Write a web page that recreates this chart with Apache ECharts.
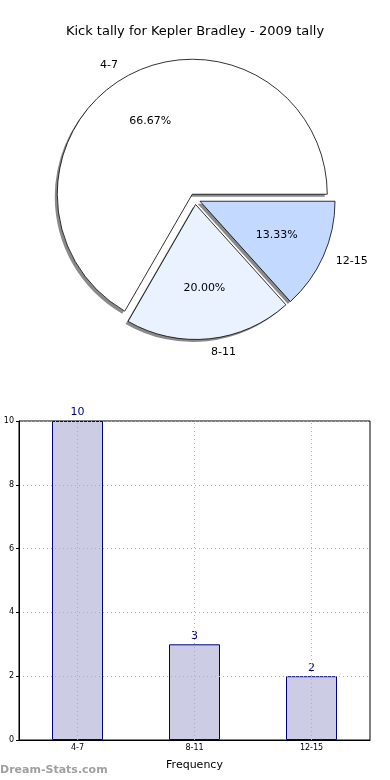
<!DOCTYPE html>
<html>
<head>
<meta charset="utf-8">
<script src="https://cdn.jsdelivr.net/npm/echarts@6/dist/echarts.min.js"></script>
<style>
html,body{margin:0;padding:0;background:#fff;}
#c{width:390px;height:780px;}
</style>
</head>
<body>
<div id="c"></div>
<script>
var categories = ['4-7', '8-11', '12-15'];
var values = [10, 3, 2];
var yTicks = [0, 2, 4, 6, 8, 10];
var titleText = 'Kick tally for Kepler Bradley - 2009 tally';
var xAxisTitle = 'Frequency';
var yAxisTitle = 'Distribution';
var watermark = 'Dream-Stats.com';

var pieColors = ['#ffffff', '#ebf2ff', '#c4d9ff'];
var FONT = 'DejaVu Sans';
var total = values.reduce(function (a, b) { return a + b; }, 0);

function pieItems(withColor) {
  return categories.map(function (c, i) {
    var d = { name: c, value: values[i], selected: true };
    if (withColor) d.itemStyle = { color: pieColors[i] };
    return d;
  });
}

var CX = 195, CY = 199, R = 135, OFF = 5.5;

var pieCommon = {
  type: 'pie',
  startAngle: 0,
  clockwise: false,
  selectedMode: 'multiple',
  selectedOffset: OFF,
  avoidLabelOverlap: false,
  silent: true,
  emphasis: { disabled: true }
};

var chart = echarts.init(document.getElementById('c'), null, { renderer: 'canvas' });
chart.setOption({
  animation: false,
  backgroundColor: '#ffffff',
  title: {
    text: titleText,
    left: 'center',
    top: 20,
    textStyle: { fontFamily: FONT, fontSize: 13, fontWeight: 'normal', color: '#000' }
  },
  graphic: [{
    type: 'text',
    left: 0,
    top: 765,
    style: { text: watermark, fontFamily: FONT, fontSize: 11, fontWeight: 'bold', fill: '#a0a0a0' }
  }],
  grid: {
    left: 19, right: 20, top: 421, bottom: 40,
    containLabel: false,
    outerBoundsMode: 'none',
    show: true, borderColor: '#000', borderWidth: 1, backgroundColor: 'transparent'
  },
  xAxis: {
    type: 'category',
    data: categories,
    z: 3,
    name: xAxisTitle,
    nameLocation: 'middle',
    nameGap: 20,
    nameTextStyle: { fontFamily: FONT, fontSize: 11, color: '#000' },
    axisLine: { lineStyle: { color: '#000' } },
    axisTick: { show: false },
    axisLabel: { fontFamily: FONT, fontSize: 8, color: '#000', margin: 4 },
    splitLine: { show: false }
  },
  yAxis: {
    type: 'value',
    min: 0, max: 10, interval: 2,
    z: 3,
    name: yAxisTitle,
    nameLocation: 'middle',
    nameGap: 17,
    nameRotate: 90,
    nameTextStyle: { fontFamily: FONT, fontSize: 11, color: '#000' },
    axisLine: { show: true, lineStyle: { color: '#000' } },
    axisTick: { show: true, length: 3, lineStyle: { color: '#000' } },
    axisLabel: { fontFamily: FONT, fontSize: 8, color: '#000', margin: 5 },
    splitLine: { show: true, lineStyle: { color: '#b0b0b0', type: [1, 3] } }
  },
  series: [
    Object.assign({}, pieCommon, {
      center: [CX - 2.5, CY + 2.5],
      radius: R,
      data: pieItems(false),
      itemStyle: { color: '#8a8a8a', borderWidth: 0 },
      label: { show: false },
      labelLine: { show: false }
    }),
    Object.assign({}, pieCommon, {
      center: [CX, CY],
      radius: R,
      data: pieItems(true),
      itemStyle: { borderColor: '#000', borderWidth: 0.8 },
      label: {
        show: true, position: 'outside', distanceToLabelLine: 0,
        fontFamily: FONT, fontSize: 11, color: '#000',
        formatter: '{b}'
      },
      labelLine: { show: false, length: R * 0.1, length2: 0 }
    }),
    Object.assign({}, pieCommon, {
      center: [CX, CY],
      radius: [R * 0.2, R],
      data: pieItems(false),
      itemStyle: { color: 'rgba(0,0,0,0)', borderWidth: 0 },
      label: {
        show: true, position: 'inside',
        fontFamily: FONT, fontSize: 11, color: '#000',
        formatter: function (p) { return (p.value / total * 100).toFixed(2) + '%'; }
      },
      labelLine: { show: false }
    }),
    {
      type: 'bar',
      data: values,
      barWidth: 51,
      z: 1,
      itemStyle: { color: '#ccccE5', borderColor: '#000080', borderWidth: 1 },
      label: {
        show: true, position: 'top', distance: 3,
        fontFamily: FONT, fontSize: 11, color: '#000080'
      },
      silent: true,
      markLine: {
        silent: true,
        symbol: 'none',
        label: { show: false },
        z: 4,
        lineStyle: { color: '#b0b0b0', type: [1, 3], width: 1 },
        data: categories.map(function (c) { return { xAxis: c }; })
      }
    }
  ]
});
</script>
</body>
</html>
